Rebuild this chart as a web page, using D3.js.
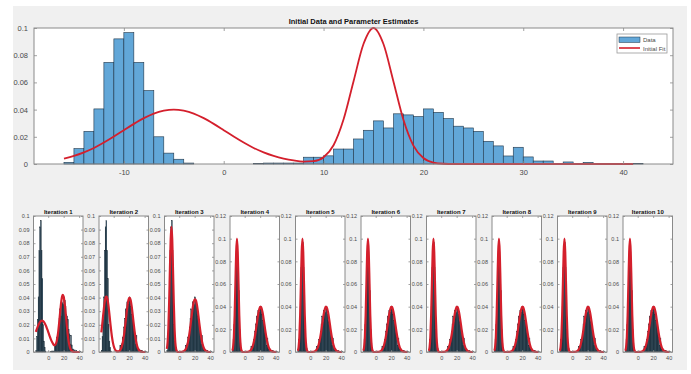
<!DOCTYPE html>
<html>
<head>
<meta charset="utf-8">
<script src="https://cdn.jsdelivr.net/npm/d3@7"></script>
<style>
  body { margin: 0; background: #fff; }
  svg { display: block; font-family: "Liberation Sans", Arial, sans-serif; }
</style>
</head>
<body>
<script>
// histogram: bins of width 1, left edges -16 .. 41 (pdf normalised)
const binStart = d3.range(-16, 42);
const density = [0.0012, 0.0113, 0.024, 0.0405, 0.0747, 0.092, 0.0966, 0.0747, 0.054, 0.020,
    0.008, 0.0035, 0.0007, 0, 0, 0, 0, 0, 0, 0.0004,
    0.0007, 0.0007, 0.0007, 0.0007, 0.005, 0.005, 0.006, 0.011, 0.011, 0.0184,
    0.0248, 0.0317, 0.0265, 0.0369, 0.0361, 0.0349, 0.0405, 0.038, 0.0334, 0.0278,
    0.0265, 0.024, 0.0167, 0.0133, 0.0059, 0.0123, 0.0052, 0.0022, 0.0022, 0.0005,
    0.0015, 0.0005, 0.0012, 0.0005, 0, 0, 0.0004, 0.0005];

// fitted mixture curves, sampled at x = -16 .. 41
const fitX = d3.range(-16, 42);
const initFit = [0.0040, 0.0060, 0.0086, 0.0118, 0.0158, 0.0202, 0.0249, 0.0295, 0.0337, 0.0371,
    0.0392, 0.0400, 0.0392, 0.0371, 0.0337, 0.0295, 0.0249, 0.0202, 0.0158, 0.0118,
    0.0086, 0.0060, 0.0040, 0.0026, 0.0018, 0.0021, 0.0050, 0.0138, 0.0327, 0.0607,
    0.0882, 0.1000, 0.0882, 0.0607, 0.0325, 0.0135, 0.0044, 0.0011, 0.0002, 0,
    0, 0, 0, 0, 0, 0, 0, 0, 0, 0, 0, 0, 0, 0, 0, 0, 0, 0];
const fitIter1 = [0.0148, 0.0164, 0.0179, 0.0194, 0.0206, 0.0216, 0.0224, 0.0228, 0.0230, 0.0228,
    0.0224, 0.0216, 0.0206, 0.0194, 0.0179, 0.0164, 0.0148, 0.0132, 0.0115, 0.0100,
    0.0085, 0.0073, 0.0063, 0.0054, 0.0050, 0.0051, 0.0061, 0.0079, 0.0110, 0.0152,
    0.0205, 0.0265, 0.0324, 0.0375, 0.0409, 0.0421, 0.0407, 0.0372, 0.0320, 0.0259,
    0.0197, 0.0141, 0.0095, 0.0060, 0.0036, 0.0020, 0.0011, 0.0005, 0.0003, 0.0001,
    0, 0, 0, 0, 0, 0, 0, 0];
const fitIter2 = [0.0145, 0.0194, 0.0249, 0.0303, 0.0351, 0.0388, 0.0408, 0.0408, 0.0388, 0.0351,
    0.0303, 0.0249, 0.0194, 0.0145, 0.0102, 0.0069, 0.0044, 0.0027, 0.0016, 0.0009,
    0.0006, 0.0004, 0.0004, 0.0006, 0.0011, 0.0020, 0.0033, 0.0051, 0.0077, 0.0111,
    0.0153, 0.0201, 0.0252, 0.0303, 0.0347, 0.0380, 0.0398, 0.0398, 0.0380, 0.0347,
    0.0303, 0.0252, 0.0201, 0.0153, 0.0111, 0.0077, 0.0051, 0.0033, 0.0020, 0.0011,
    0.0006, 0.0003, 0.0002, 0.0001, 0, 0, 0, 0];
const fitIter3 = [0.0023, 0.0070, 0.0177, 0.0364, 0.0609, 0.0830, 0.0920, 0.0830, 0.0609, 0.0364,
    0.0177, 0.0070, 0.0023, 0.0006, 0.0001, 0, 0, 0, 0.0001, 0.0001,
    0.0002, 0.0003, 0.0006, 0.0010, 0.0017, 0.0028, 0.0043, 0.0064, 0.0092, 0.0127,
    0.0168, 0.0213, 0.0260, 0.0305, 0.0344, 0.0373, 0.0388, 0.0388, 0.0373, 0.0344,
    0.0305, 0.0260, 0.0213, 0.0168, 0.0127, 0.0092, 0.0064, 0.0043, 0.0028, 0.0017,
    0.0010, 0.0006, 0.0003, 0.0002, 0.0001, 0, 0, 0];
// iterations 4..10 have converged to the same curve
const fitFinal = [0.0011, 0.0044, 0.0135, 0.0325, 0.0607, 0.0882, 0.1000, 0.0882, 0.0607, 0.0325,
    0.0135, 0.0044, 0.0011, 0.0002, 0, 0, 0, 0, 0.0001, 0.0001,
    0.0002, 0.0003, 0.0006, 0.0010, 0.0018, 0.0028, 0.0044, 0.0066, 0.0094, 0.0130,
    0.0172, 0.0219, 0.0267, 0.0313, 0.0353, 0.0382, 0.0398, 0.0398, 0.0382, 0.0353,
    0.0313, 0.0267, 0.0219, 0.0172, 0.0130, 0.0094, 0.0066, 0.0044, 0.0028, 0.0018,
    0.0010, 0.0006, 0.0003, 0.0002, 0.0001, 0, 0, 0];
const iterFits = [fitIter1, fitIter2, fitIter3, fitFinal, fitFinal, fitFinal, fitFinal, fitFinal, fitFinal, fitFinal];
const iterNames = ["Iteration 1", "Iteration 2", "Iteration 3", "Iteration 4", "Iteration 5",
    "Iteration 6", "Iteration 7", "Iteration 8", "Iteration 9", "Iteration 10"];

const topTitle = "Initial Data and Parameter Estimates";
const legendLabels = ["Data", "Initial Fit"];
const topXTicks = [-10, 0, 10, 20, 30, 40];
const topYTicks = [0, 0.02, 0.04, 0.06, 0.08, 0.1];
const smallXTicks = [0, 20, 40];
const smallYTicksA = [0, 0.01, 0.02, 0.03, 0.04, 0.05, 0.06, 0.07, 0.08, 0.09, 0.1];
const smallYTicksB = [0, 0.02, 0.04, 0.06, 0.08, 0.1, 0.12];

const width = 691, height = 374;
const red = "#d41f2c";
const boxColor = "#8a8a8a";
const labelColor = "#4a4a4a";

const svg = d3.select("body").append("svg")
    .attr("width", width)
    .attr("height", height);

// figure background
svg.append("rect")
    .attr("x", 13).attr("y", 6)
    .attr("width", 674).attr("height", 364)
    .attr("fill", "#f0f0f0");

// 全体で使う描画関数
function drawAxes(g, x, y, opts) {
    const [x0, x1] = x.range();
    const [y0, y1] = y.range();   // y0 = bottom, y1 = top
    const w = x1 - x0, h = y0 - y1;

    g.append("rect")
        .attr("x", x0).attr("y", y1)
        .attr("width", w).attr("height", h)
        .attr("fill", "#fff");

    // histogram bars
    g.append("g").selectAll("rect")
        .data(binStart.map((b, i) => ({ b: b, v: density[i] })).filter(d => d.v > 0))
        .join("rect")
        .attr("x", d => x(d.b))
        .attr("y", d => y(d.v))
        .attr("width", d => x(d.b + 1) - x(d.b))
        .attr("height", d => y(0) - y(d.v))
        .attr("fill", opts.barFill)
        .attr("stroke", opts.barStroke)
        .attr("stroke-width", opts.barStrokeWidth);

    // fitted curve
    const line = d3.line()
        .x((d, i) => x(fitX[i]))
        .y(d => y(d))
        .curve(d3.curveMonotoneX);
    g.append("path")
        .datum(opts.fit)
        .attr("d", line)
        .attr("fill", "none")
        .attr("stroke", red)
        .attr("stroke-width", opts.lineWidth)
        .attr("stroke-linejoin", "round");

    // axes (MATLAB style, ticks inside)
    const t = opts.tick;
    const bottom = g.append("g")
        .attr("transform", "translate(0," + y0 + ")")
        .call(d3.axisBottom(x).tickValues(opts.xTicks).tickSize(-t).tickPadding(opts.pad + t).tickFormat(d => String(d)));
    const left = g.append("g")
        .attr("transform", "translate(" + x0 + ",0)")
        .call(d3.axisLeft(y).tickValues(opts.yTicks).tickSize(-t).tickPadding(opts.pad + t).tickFormat(d => String(d)));
    const top = g.append("g")
        .attr("transform", "translate(0," + y1 + ")")
        .call(d3.axisTop(x).tickValues(opts.xTicks).tickSize(-t).tickFormat(""));
    const right = g.append("g")
        .attr("transform", "translate(" + x1 + ",0)")
        .call(d3.axisRight(y).tickValues(opts.yTicks).tickSize(-t).tickFormat(""));
    [bottom, left, top, right].forEach(a => {
        a.select(".domain").remove();
        a.selectAll("line").attr("stroke", boxColor).attr("stroke-width", 0.8);
        a.selectAll("text")
            .attr("fill", labelColor)
            .style("font-size", opts.fontSize + "px")
            .style("font-family", "\"Liberation Sans\", Arial, sans-serif");
    });

    g.append("rect")
        .attr("x", x0).attr("y", y1)
        .attr("width", w).attr("height", h)
        .attr("fill", "none")
        .attr("stroke", boxColor)
        .attr("stroke-width", 1);

    g.append("text")
        .attr("x", (x0 + x1) / 2)
        .attr("y", y1 - opts.titleGap)
        .attr("text-anchor", "middle")
        .attr("font-weight", "bold")
        .attr("font-size", opts.titleSize)
        .attr("fill", "#111")
        .text(opts.title);
}

// 上段: 初期推定
const xTop = d3.scaleLinear().domain([-19, 45]).range([34, 673]);
const yTop = d3.scaleLinear().domain([0, 0.1]).range([164, 28]);
const gTop = svg.append("g");
drawAxes(gTop, xTop, yTop, {
    fit: initFit,
    barFill: "#62a7d8",
    barStroke: "#1f3447",
    barStrokeWidth: 0.6,
    lineWidth: 1.8,
    xTicks: topXTicks,
    yTicks: topYTicks,
    tick: 3,
    pad: 3,
    fontSize: 7.5,
    title: topTitle,
    titleSize: 7.5,
    titleGap: 4
});

// legend
const lg = gTop.append("g").attr("transform", "translate(617,34)");
lg.append("rect")
    .attr("width", 50).attr("height", 19)
    .attr("fill", "#fff")
    .attr("stroke", "#9a9a9a")
    .attr("stroke-width", 0.8);
lg.append("rect")
    .attr("x", 2).attr("y", 3)
    .attr("width", 21).attr("height", 5.5)
    .attr("fill", "#62a7d8")
    .attr("stroke", "#1f3447")
    .attr("stroke-width", 0.5);
lg.append("line")
    .attr("x1", 2).attr("x2", 23)
    .attr("y1", 14).attr("y2", 14)
    .attr("stroke", red)
    .attr("stroke-width", 1.6);
lg.selectAll("text.lab")
    .data(legendLabels)
    .join("text")
    .attr("class", "lab")
    .attr("x", 26)
    .attr("y", (d, i) => 8 + i * 8.5)
    .attr("font-size", 6)
    .attr("fill", labelColor)
    .text(d => d);

// 下段: 各反復
iterFits.forEach((fit, i) => {
    const left = 33.5 + i * 65.5;
    const x = d3.scaleLinear().domain([-19, 45]).range([left, left + 49.5]);
    const y = d3.scaleLinear().domain([0, i < 3 ? 0.1 : 0.12]).range([352, 216]);
    drawAxes(svg.append("g"), x, y, {
        fit: fit,
        barFill: "#284f69",
        barStroke: "#142029",
        barStrokeWidth: 0.4,
        lineWidth: 2.2,
        xTicks: smallXTicks,
        yTicks: i < 3 ? smallYTicksA : smallYTicksB,
        tick: 2,
        pad: 2,
        fontSize: 5.5,
        title: iterNames[i],
        titleSize: 6,
        titleGap: 2.5
    });
});
</script>
</body>
</html>
